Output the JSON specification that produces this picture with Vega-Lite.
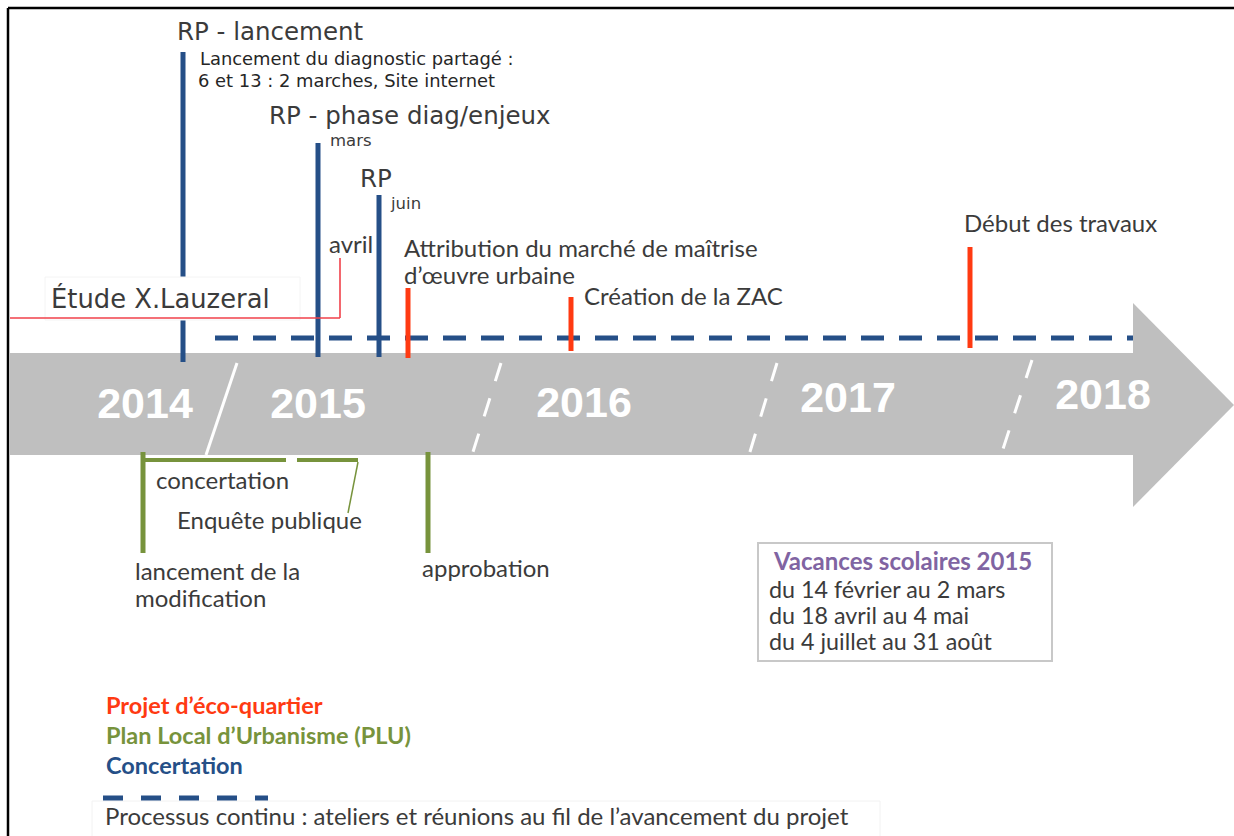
{
  "$schema": "https://vega.github.io/schema/vega-lite/v6.json",
  "width": 1234,
  "height": 836,
  "padding": 0,
  "autosize": {"type": "none"},
  "background": "#ffffff",
  "config": {"view": {"stroke": null}, "text": {"font": "Lato", "color": "#3b3b3b"}},
  "datasets": {
    "cadre": [{"x": 8, "y": 8, "x2": 1234, "y2": 8}, {"x": 8, "y": 8, "x2": 8, "y2": 836}],
    "fleche": [{"x": 10, "x2": 1133, "y": 353, "y2": 455}],
    "pointe": [{"x": 1133, "y": 303, "y2": 507}, {"x": 1234, "y": 405, "y2": 405}],
    "annees": [
      {"annee": "2014", "x": 145, "y": 405},
      {"annee": "2015", "x": 318, "y": 405},
      {"annee": "2016", "x": 584, "y": 404},
      {"annee": "2017", "x": 848, "y": 399},
      {"annee": "2018", "x": 1103, "y": 396}
    ],
    "separateurs": [
      {"type": "plein", "x": 237, "y": 363, "x2": 206, "y2": 455},
      {"type": "pointille", "x": 501, "y": 363, "x2": 472, "y2": 455},
      {"type": "pointille", "x": 777, "y": 363, "x2": 749, "y2": 455},
      {"type": "pointille", "x": 1032, "y": 360, "x2": 1002, "y2": 452}
    ],
    "continu": [{"x": 215, "x2": 1140, "y": 338}],
    "jalons": [
      {"serie": "Concertation", "x": 183, "y": 52, "y2": 362},
      {"serie": "Concertation", "x": 318, "y": 143, "y2": 357},
      {"serie": "Concertation", "x": 379, "y": 195, "y2": 357},
      {"serie": "Eco", "x": 408, "y": 288, "y2": 358},
      {"serie": "Eco", "x": 571, "y": 297, "y2": 351},
      {"serie": "Eco", "x": 970, "y": 247, "y2": 348},
      {"serie": "PLU", "x": 143, "y": 452, "y2": 553},
      {"serie": "PLU", "x": 428, "y": 452, "y2": 553}
    ],
    "periodes": [
      {"periode": "concertation", "x": 143, "x2": 286, "y": 460},
      {"periode": "enquete", "x": 297, "x2": 358, "y": 460}
    ],
    "liens": [{"x": 358, "y": 462, "x2": 348, "y2": 513}],
    "etude": [{"x": 10, "y": 318, "x2": 340, "y2": 318}, {"x": 340, "y": 318, "x2": 340, "y2": 258}],
    "masque": [{"x": 45, "x2": 300, "y": 277, "y2": 320}],
    "encadres": [
      {"boite": "vacances", "x": 758, "x2": 1052, "y": 543, "y2": 661},
      {"boite": "processus", "x": 92, "x2": 880, "y": 801, "y2": 840}
    ],
    "legende_tirets": [{"x": 103, "x2": 268, "y": 798}],
    "textes": [
      {"role": "titre", "texte": "RP - lancement", "x": 177, "y": 33},
      {"role": "note", "texte": "Lancement du diagnostic partagé :", "x": 200, "y": 60},
      {"role": "note", "texte": "6 et 13 : 2 marches, Site internet", "x": 198, "y": 82},
      {"role": "titre", "texte": "RP - phase diag/enjeux", "x": 269, "y": 117},
      {"role": "mois", "texte": "mars", "x": 330, "y": 141},
      {"role": "titre", "texte": "RP", "x": 360, "y": 180},
      {"role": "mois", "texte": "juin", "x": 391, "y": 204},
      {"role": "libelle", "texte": "avril", "x": 329, "y": 246},
      {"role": "libelle", "texte": "Attribution du marché de maîtrise", "x": 404, "y": 250},
      {"role": "libelle", "texte": "d’œuvre urbaine", "x": 404, "y": 277},
      {"role": "libelle", "texte": "Création de la ZAC", "x": 584, "y": 298},
      {"role": "libelle", "texte": "Début des travaux", "x": 964, "y": 225},
      {"role": "etude", "texte": "Étude X.Lauzeral", "x": 51, "y": 300},
      {"role": "libelle", "texte": "concertation", "x": 156, "y": 482},
      {"role": "libelle", "texte": "Enquête publique", "x": 177, "y": 522},
      {"role": "libelle", "texte": "lancement de la", "x": 135, "y": 573},
      {"role": "libelle", "texte": "modification", "x": 135, "y": 600},
      {"role": "libelle", "texte": "approbation", "x": 422, "y": 570},
      {"role": "vacances", "texte": "du 14 février au 2 mars", "x": 769, "y": 591},
      {"role": "vacances", "texte": "du 18 avril au 4 mai", "x": 769, "y": 617},
      {"role": "vacances", "texte": "du 4 juillet au 31 août", "x": 769, "y": 643},
      {"role": "libelle", "texte": "Processus continu : ateliers et réunions au fil de l’avancement du projet", "x": 105, "y": 818}
    ],
    "vacances_titre": [{"texte": "Vacances scolaires 2015", "x": 774, "y": 563}],
    "legende": [
      {"serie": "Eco", "texte": "Projet d’éco-quartier", "x": 106, "y": 707},
      {"serie": "PLU", "texte": "Plan Local d’Urbanisme (PLU)", "x": 106, "y": 737},
      {"serie": "Concertation", "texte": "Concertation", "x": 106, "y": 767}
    ]
  },
  "layer": [
    {
      "data": {"name": "fleche"},
      "mark": {"type": "rect", "color": "#bfbfbf"},
      "encoding": {
        "x": {"field": "x", "type": "quantitative", "scale": {"domain": [0, 1234], "nice": false, "zero": false}, "axis": null},
        "x2": {"field": "x2"},
        "y": {"field": "y", "type": "quantitative", "scale": {"domain": [0, 836], "nice": false, "zero": false, "reverse": true}, "axis": null},
        "y2": {"field": "y2"}
      }
    },
    {
      "data": {"name": "continu"},
      "mark": {"type": "rule", "color": "#254f87", "strokeWidth": 5, "strokeDash": [23, 15]},
      "encoding": {
        "x": {"field": "x", "type": "quantitative"},
        "x2": {"field": "x2"},
        "y": {"field": "y", "type": "quantitative"}
      }
    },
    {
      "data": {"name": "pointe"},
      "mark": {"type": "area", "color": "#bfbfbf", "orient": "vertical"},
      "encoding": {
        "x": {"field": "x", "type": "quantitative"},
        "y": {"field": "y", "type": "quantitative"},
        "y2": {"field": "y2"}
      }
    },
    {
      "data": {"name": "separateurs"},
      "transform": [{"filter": "datum.type === 'plein'"}],
      "mark": {"type": "rule", "color": "#ffffff", "strokeWidth": 3},
      "encoding": {
        "x": {"field": "x", "type": "quantitative"},
        "x2": {"field": "x2"},
        "y": {"field": "y", "type": "quantitative"},
        "y2": {"field": "y2"}
      }
    },
    {
      "data": {"name": "separateurs"},
      "transform": [{"filter": "datum.type === 'pointille'"}],
      "mark": {"type": "rule", "color": "#ffffff", "strokeWidth": 3, "strokeDash": [19, 18]},
      "encoding": {
        "x": {"field": "x", "type": "quantitative"},
        "x2": {"field": "x2"},
        "y": {"field": "y", "type": "quantitative"},
        "y2": {"field": "y2"}
      }
    },
    {
      "data": {"name": "annees"},
      "mark": {"type": "text", "font": "Liberation Sans", "fontWeight": "bold", "fontSize": 43, "color": "#ffffff", "align": "center", "baseline": "middle"},
      "encoding": {
        "x": {"field": "x", "type": "quantitative"},
        "y": {"field": "y", "type": "quantitative"},
        "text": {"field": "annee"}
      }
    },
    {
      "data": {"name": "jalons"},
      "mark": {"type": "rule", "strokeWidth": 5},
      "encoding": {
        "x": {"field": "x", "type": "quantitative"},
        "y": {"field": "y", "type": "quantitative"},
        "y2": {"field": "y2"},
        "color": {"field": "serie", "type": "nominal", "scale": {"domain": ["Eco", "PLU", "Concertation"], "range": ["#ff3a12", "#77933c", "#254f87"]}, "legend": null}
      }
    },
    {
      "data": {"name": "periodes"},
      "mark": {"type": "rule", "strokeWidth": 4, "color": "#77933c"},
      "encoding": {
        "x": {"field": "x", "type": "quantitative"},
        "x2": {"field": "x2"},
        "y": {"field": "y", "type": "quantitative"}
      }
    },
    {
      "data": {"name": "liens"},
      "mark": {"type": "rule", "strokeWidth": 1.5, "color": "#77933c"},
      "encoding": {
        "x": {"field": "x", "type": "quantitative"},
        "x2": {"field": "x2"},
        "y": {"field": "y", "type": "quantitative"},
        "y2": {"field": "y2"}
      }
    },
    {
      "data": {"name": "masque"},
      "mark": {"type": "rect", "color": "#ffffff", "stroke": "#f4f4f4", "strokeWidth": 1},
      "encoding": {
        "x": {"field": "x", "type": "quantitative"},
        "x2": {"field": "x2"},
        "y": {"field": "y", "type": "quantitative"},
        "y2": {"field": "y2"}
      }
    },
    {
      "data": {"name": "etude"},
      "mark": {"type": "rule", "strokeWidth": 1.6, "color": "#f0404a"},
      "encoding": {
        "x": {"field": "x", "type": "quantitative"},
        "x2": {"field": "x2"},
        "y": {"field": "y", "type": "quantitative"},
        "y2": {"field": "y2"}
      }
    },
    {
      "data": {"name": "encadres"},
      "transform": [{"filter": "datum.boite === 'vacances'"}],
      "mark": {"type": "rect", "fill": "#ffffff", "stroke": "#c8c8c8", "strokeWidth": 2},
      "encoding": {
        "x": {"field": "x", "type": "quantitative"},
        "x2": {"field": "x2"},
        "y": {"field": "y", "type": "quantitative"},
        "y2": {"field": "y2"}
      }
    },
    {
      "data": {"name": "encadres"},
      "transform": [{"filter": "datum.boite === 'processus'"}],
      "mark": {"type": "rect", "fill": "#ffffff", "stroke": "#f2f2f2", "strokeWidth": 1},
      "encoding": {
        "x": {"field": "x", "type": "quantitative"},
        "x2": {"field": "x2"},
        "y": {"field": "y", "type": "quantitative"},
        "y2": {"field": "y2"}
      }
    },
    {
      "data": {"name": "legende_tirets"},
      "mark": {"type": "rule", "color": "#254f87", "strokeWidth": 5, "strokeDash": [20, 18]},
      "encoding": {
        "x": {"field": "x", "type": "quantitative"},
        "x2": {"field": "x2"},
        "y": {"field": "y", "type": "quantitative"}
      }
    },
    {
      "data": {"name": "textes"},
      "transform": [{"filter": "datum.role === 'titre'"}],
      "mark": {"type": "text", "font": "DejaVu Sans", "fontSize": 24.5, "align": "left", "baseline": "middle"},
      "encoding": {
        "x": {"field": "x", "type": "quantitative"},
        "y": {"field": "y", "type": "quantitative"},
        "text": {"field": "texte"}
      }
    },
    {
      "data": {"name": "textes"},
      "transform": [{"filter": "datum.role === 'etude'"}],
      "mark": {"type": "text", "font": "DejaVu Sans", "fontSize": 25.8, "align": "left", "baseline": "middle"},
      "encoding": {
        "x": {"field": "x", "type": "quantitative"},
        "y": {"field": "y", "type": "quantitative"},
        "text": {"field": "texte"}
      }
    },
    {
      "data": {"name": "textes"},
      "transform": [{"filter": "datum.role === 'note'"}],
      "mark": {"type": "text", "font": "DejaVu Sans", "fontSize": 17.9, "align": "left", "baseline": "middle", "color": "#262626"},
      "encoding": {
        "x": {"field": "x", "type": "quantitative"},
        "y": {"field": "y", "type": "quantitative"},
        "text": {"field": "texte"}
      }
    },
    {
      "data": {"name": "textes"},
      "transform": [{"filter": "datum.role === 'mois'"}],
      "mark": {"type": "text", "font": "DejaVu Sans", "fontSize": 16.5, "align": "left", "baseline": "middle"},
      "encoding": {
        "x": {"field": "x", "type": "quantitative"},
        "y": {"field": "y", "type": "quantitative"},
        "text": {"field": "texte"}
      }
    },
    {
      "data": {"name": "textes"},
      "transform": [{"filter": "datum.role === 'libelle'"}],
      "mark": {"type": "text", "fontSize": 24, "align": "left", "baseline": "middle"},
      "encoding": {
        "x": {"field": "x", "type": "quantitative"},
        "y": {"field": "y", "type": "quantitative"},
        "text": {"field": "texte"}
      }
    },
    {
      "data": {"name": "textes"},
      "transform": [{"filter": "datum.role === 'vacances'"}],
      "mark": {"type": "text", "fontSize": 23.3, "align": "left", "baseline": "middle"},
      "encoding": {
        "x": {"field": "x", "type": "quantitative"},
        "y": {"field": "y", "type": "quantitative"},
        "text": {"field": "texte"}
      }
    },
    {
      "data": {"name": "vacances_titre"},
      "mark": {"type": "text", "fontSize": 24, "fontWeight": "bold", "align": "left", "baseline": "middle", "color": "#8064a2"},
      "encoding": {
        "x": {"field": "x", "type": "quantitative"},
        "y": {"field": "y", "type": "quantitative"},
        "text": {"field": "texte"}
      }
    },
    {
      "data": {"name": "legende"},
      "mark": {"type": "text", "fontSize": 23.5, "fontWeight": "bold", "align": "left", "baseline": "middle"},
      "encoding": {
        "x": {"field": "x", "type": "quantitative"},
        "y": {"field": "y", "type": "quantitative"},
        "text": {"field": "texte"},
        "color": {"field": "serie", "type": "nominal", "scale": {"domain": ["Eco", "PLU", "Concertation"], "range": ["#ff3a12", "#77933c", "#254f87"]}, "legend": null}
      }
    },
    {
      "data": {"name": "cadre"},
      "mark": {"type": "rule", "color": "#000000", "strokeWidth": 2.5},
      "encoding": {
        "x": {"field": "x", "type": "quantitative"},
        "x2": {"field": "x2"},
        "y": {"field": "y", "type": "quantitative"},
        "y2": {"field": "y2"}
      }
    }
  ]
}
